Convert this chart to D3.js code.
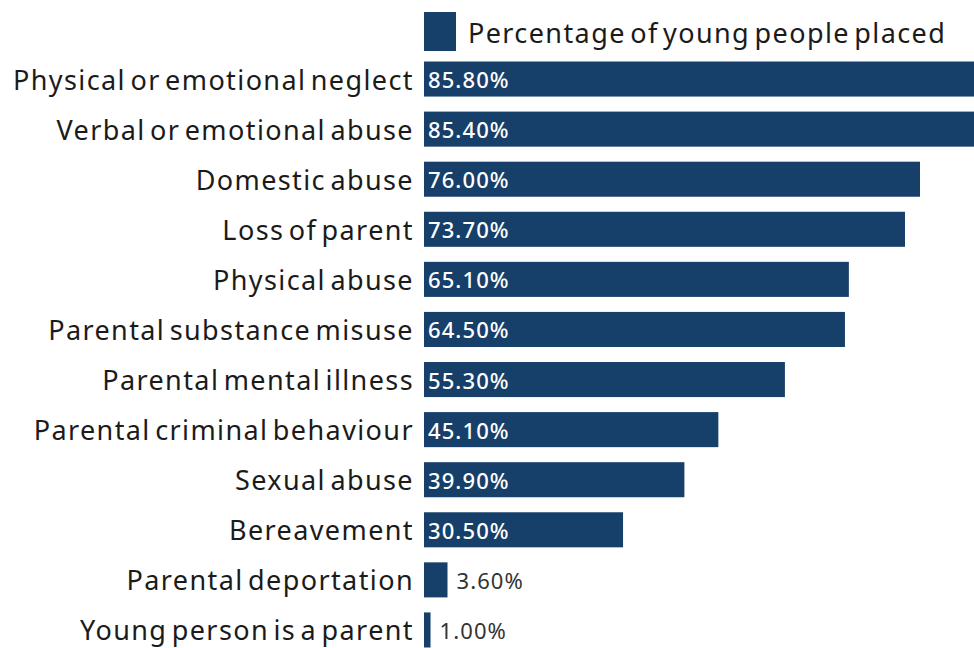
<!DOCTYPE html>
<html>
<head>
<meta charset="utf-8">
<script src="https://cdn.jsdelivr.net/npm/d3@7"></script>
<style>
  html, body { margin: 0; padding: 0; background: #fff; }
  svg { display: block; }
  text { font-family: "Noto Sans", sans-serif; }
</style>
</head>
<body>
<svg id="chart" width="974" height="648"></svg>
<script>
// Reasons recorded for young people placed (share of placements)
const categories = [
  "Physical or emotional neglect",
  "Verbal or emotional abuse",
  "Domestic abuse",
  "Loss of parent",
  "Physical abuse",
  "Parental substance misuse",
  "Parental mental illness",
  "Parental criminal behaviour",
  "Sexual abuse",
  "Bereavement",
  "Parental deportation",
  "Young person is a parent"
];
const values = [85.8, 85.4, 76.0, 73.7, 65.1, 64.5, 55.3, 45.1, 39.9, 30.5, 3.6, 1.0];
const seriesName = "Percentage of young people placed";

const data = categories.map((c, i) => ({ category: c, value: values[i] }));

const svg = d3.select("#chart");
const barColor = "#163f69";
const textColor = "#1b1b1b";
const left = 424;

const x = d3.scaleLinear().domain([0, 76]).range([left, 920]);
const y = d3.scaleBand().domain(categories).range([54, 655]).paddingInner(0.3).paddingOuter(0.15);

// Legend
svg.append("rect")
  .attr("x", 424).attr("y", 12).attr("width", 32).attr("height", 39)
  .attr("fill", barColor);
svg.append("text")
  .attr("x", 468).attr("y", 32)
  .attr("dominant-baseline", "central")
  .attr("font-size", 27)
  .attr("letter-spacing", 1.4)
  .attr("word-spacing", -4)
  .attr("fill", textColor)
  .text(seriesName);

// Bars
svg.append("g").selectAll("rect")
  .data(data).join("rect")
  .attr("x", x(0))
  .attr("y", d => y(d.category))
  .attr("width", d => x(d.value) - x(0))
  .attr("height", y.bandwidth())
  .attr("fill", barColor);

// Category labels
svg.append("g").selectAll("text")
  .data(data).join("text")
  .attr("x", left - 10)
  .attr("y", d => y(d.category) + y.bandwidth() / 2)
  .attr("text-anchor", "end")
  .attr("dominant-baseline", "central")
  .attr("font-size", 27)
  .attr("letter-spacing", 1.4)
  .attr("word-spacing", -4)
  .attr("fill", textColor)
  .text(d => d.category);

// Value labels: inside long bars, beside short ones
const inside = d => x(d.value) - x(0) > 80;
svg.append("g").selectAll("text")
  .data(data).join("text")
  .attr("x", d => inside(d) ? left + 4 : x(d.value) + 9)
  .attr("y", d => y(d.category) + y.bandwidth() / 2)
  .attr("dominant-baseline", "central")
  .attr("font-size", 22)
  .attr("font-weight", d => inside(d) ? 500 : 400)
  .attr("letter-spacing", 1.1)
  .attr("fill", d => inside(d) ? "#fff" : "#333")
  .text(d => d.value.toFixed(2) + "%");
</script>
</body>
</html>
